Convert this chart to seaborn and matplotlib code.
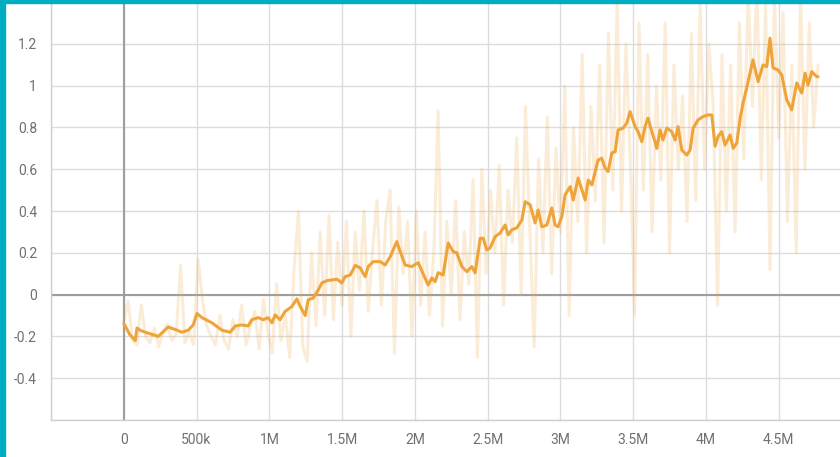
import numpy as np
import pandas as pd
import matplotlib
matplotlib.use("Agg")
import matplotlib.pyplot as plt
from matplotlib.patches import Rectangle
from matplotlib.ticker import FuncFormatter, FixedLocator
import seaborn as sns

# Smoothed training curve (step in millions, value)
smooth_step_m = [
    0.000, 0.010, 0.040, 0.079, 0.091, 0.111, 0.148, 0.237, 0.305, 0.365,
    0.399, 0.443, 0.477, 0.503, 0.537, 0.606, 0.674, 0.731, 0.766, 0.812,
    0.855, 0.880, 0.924, 0.958, 0.992, 1.018, 1.040, 1.074, 1.109, 1.155,
    1.190, 1.212, 1.247, 1.267, 1.302, 1.336, 1.361, 1.396, 1.430, 1.464,
    1.499, 1.521, 1.556, 1.590, 1.624, 1.659, 1.679, 1.714, 1.762, 1.796,
    1.831, 1.876, 1.899, 1.933, 1.979, 2.023, 2.057, 2.091, 2.117, 2.139,
    2.160, 2.194, 2.229, 2.263, 2.288, 2.323, 2.357, 2.391, 2.414, 2.449,
    2.469, 2.494, 2.517, 2.551, 2.586, 2.620, 2.641, 2.666, 2.701, 2.735,
    2.758, 2.792, 2.826, 2.847, 2.872, 2.907, 2.941, 2.964, 2.984, 3.010,
    3.032, 3.067, 3.088, 3.122, 3.170, 3.191, 3.216, 3.259, 3.284, 3.307,
    3.328, 3.353, 3.376, 3.396, 3.431, 3.456, 3.479, 3.513, 3.534, 3.559,
    3.582, 3.602, 3.628, 3.650, 3.662, 3.685, 3.705, 3.731, 3.765, 3.788,
    3.808, 3.834, 3.868, 3.891, 3.912, 3.946, 3.980, 4.014, 4.040, 4.063,
    4.083, 4.108, 4.131, 4.166, 4.187, 4.212, 4.235, 4.255, 4.280, 4.323,
    4.358, 4.392, 4.418, 4.440, 4.461, 4.495, 4.521, 4.555, 4.589, 4.624,
    4.658, 4.681, 4.701, 4.727, 4.761, 4.770,
]
smooth_value = [
    -0.14, -0.15, -0.19, -0.22, -0.16, -0.17, -0.18, -0.20, -0.155, -0.17,
    -0.18, -0.17, -0.145, -0.09, -0.11, -0.135, -0.17, -0.18, -0.15, -0.145,
    -0.15, -0.12, -0.11, -0.12, -0.11, -0.135, -0.097, -0.12, -0.08, -0.057,
    -0.02, -0.057, -0.10, -0.025, -0.016, 0.022, 0.056, 0.067, 0.07, 0.074,
    0.056, 0.086, 0.094, 0.14, 0.128, 0.086, 0.134, 0.158, 0.158, 0.142,
    0.182, 0.254, 0.206, 0.142, 0.134, 0.153, 0.10, 0.046, 0.08, 0.062,
    0.105, 0.094, 0.247, 0.206, 0.20, 0.134, 0.11, 0.134, 0.104, 0.27,
    0.27, 0.214, 0.223, 0.277, 0.295, 0.333, 0.286, 0.31, 0.32, 0.357,
    0.445, 0.43, 0.343, 0.405, 0.325, 0.333, 0.415, 0.333, 0.325, 0.373,
    0.477, 0.517, 0.453, 0.558, 0.453, 0.548, 0.525, 0.644, 0.653, 0.606,
    0.589, 0.678, 0.684, 0.788, 0.797, 0.821, 0.876, 0.804, 0.78, 0.732,
    0.804, 0.845, 0.78, 0.732, 0.70, 0.788, 0.74, 0.797, 0.78, 0.74,
    0.804, 0.692, 0.668, 0.692, 0.797, 0.836, 0.852, 0.86, 0.86, 0.71,
    0.756, 0.78, 0.716, 0.764, 0.70, 0.726, 0.844, 0.917, 0.989, 1.123,
    1.019, 1.099, 1.091, 1.227, 1.085, 1.075, 1.051, 0.932, 0.884, 1.013,
    0.965, 1.06, 1.003, 1.067, 1.043, 1.043,
]

# Raw logged values, one every 30k steps
raw_interval = 30000
raw_value = [
    -0.13, -0.03, -0.22, -0.24, -0.05, -0.20, -0.23, -0.16, -0.25, -0.18,
    -0.14, -0.22, -0.19, 0.14, -0.23, -0.18, -0.24, 0.17, -0.02, -0.15,
    -0.20, -0.24, -0.10, -0.22, -0.26, -0.12, -0.20, -0.05, -0.24, -0.15,
    -0.08, -0.26, -0.02, -0.18, -0.28, 0.05, -0.22, -0.10, -0.30, 0.12,
    0.40, -0.25, -0.32, 0.20, -0.15, 0.30, -0.10, 0.38, -0.12, 0.25,
    -0.05, 0.35, -0.20, 0.30, 0.02, 0.40, -0.08, 0.22, 0.45, -0.05,
    0.35, 0.50, -0.28, 0.42, 0.10, 0.35, -0.20, 0.40, -0.05, 0.30,
    -0.10, 0.20, 0.88, -0.15, 0.35, 0.00, 0.45, -0.12, 0.30, 0.05,
    0.55, -0.30, 0.60, 0.10, 0.50, 0.20, 0.62, -0.05, 0.50, 0.25,
    0.75, 0.00, 0.90, 0.30, -0.25, 0.65, 0.20, 0.85, 0.10, 0.70,
    0.30, 1.00, -0.10, 0.80, 0.35, 1.15, 0.20, 0.90, 0.45, 1.10,
    0.25, 1.25, 0.50, 1.40, 0.40, 1.20, 0.65, -0.10, 1.30, 0.50,
    1.15, 0.30, 1.00, 0.55, 1.30, 0.20, 1.10, 0.60, 0.95, 0.35,
    1.25, 0.45, 1.40, 0.60, 1.20, 0.90, -0.05, 1.15, 0.40, 1.10,
    0.30, 1.30, 0.65, 1.45, 0.90, 1.50, 0.55, 1.40, 0.12, 1.45,
    0.75, 1.35, 0.35, 1.10, 0.20, 1.45, 0.60, 1.30, 0.80, 1.10,
]

x_ticks = [-500000, 0, 500000, 1000000, 1500000, 2000000, 2500000,
           3000000, 3500000, 4000000, 4500000]
y_ticks = [-0.6, -0.4, -0.2, 0, 0.2, 0.4, 0.6, 0.8, 1.0, 1.2]

line_color = "#EFA43A"
grid_color = "#DCDCDC"
zero_color = "#9E9E9E"
text_color = "#707070"
frame_color = "#00ACC1"

sns.set_style("white")
plt.rcParams["font.family"] = ["Roboto", "DejaVu Sans"]

smooth_df = pd.DataFrame({"step": np.array(smooth_step_m) * 1e6,
                          "value": smooth_value})
raw_df = pd.DataFrame({"step": np.arange(len(raw_value)) * raw_interval,
                       "value": raw_value})

fig = plt.figure(figsize=(8.4, 4.57), dpi=100)
ax = fig.add_axes([51 / 840, 1 - 420 / 457, 1 - 51 / 840, 420 / 457])

sns.lineplot(data=raw_df, x="step", y="value", ax=ax, color=line_color,
             alpha=0.2, linewidth=2.2, zorder=2)
sns.lineplot(data=smooth_df, x="step", y="value", ax=ax, color=line_color,
             linewidth=2.2, zorder=4)

ax.set_xlim(-500000, 4.921e6)
ax.set_ylim(-0.6, 1.41)

ax.xaxis.set_major_locator(FixedLocator(x_ticks))
ax.yaxis.set_major_locator(FixedLocator(y_ticks))


def fmt_step(v, _pos):
    if v < 0:
        return ""
    if v == 0:
        return "0"
    if v < 1e6:
        return f"{v / 1e3:g}k"
    return f"{v / 1e6:g}M"


def fmt_val(v, _pos):
    if v < -0.5:
        return ""
    return f"{v:g}"


ax.xaxis.set_major_formatter(FuncFormatter(fmt_step))
ax.yaxis.set_major_formatter(FuncFormatter(fmt_val))

ax.grid(True, color=grid_color, linewidth=1.0, zorder=0)
ax.set_axisbelow(True)
ax.axhline(0, color=zero_color, linewidth=1.5, zorder=1)
ax.axvline(0, color=zero_color, linewidth=1.5, zorder=1)

for side in ("top", "right"):
    ax.spines[side].set_visible(False)
for side in ("left", "bottom"):
    ax.spines[side].set_color("#CFCFCF")
    ax.spines[side].set_linewidth(1.0)

ax.tick_params(axis="both", which="major", width=1.0,
               color="#CFCFCF", labelcolor=text_color, labelsize=10)
ax.tick_params(axis="x", length=4, pad=5)
ax.tick_params(axis="y", length=6, pad=4)
ax.set_xlabel("")
ax.set_ylabel("")

# Accent frame along the left and top edges
fig.patches.append(Rectangle((0, 0), 5 / 840, 1, transform=fig.transFigure,
                             color=frame_color, zorder=10))
fig.patches.append(Rectangle((0, 1 - 3 / 457), 1, 3 / 457,
                             transform=fig.transFigure, color=frame_color,
                             zorder=10))

fig.savefig("out.png", dpi=100, facecolor="white")
